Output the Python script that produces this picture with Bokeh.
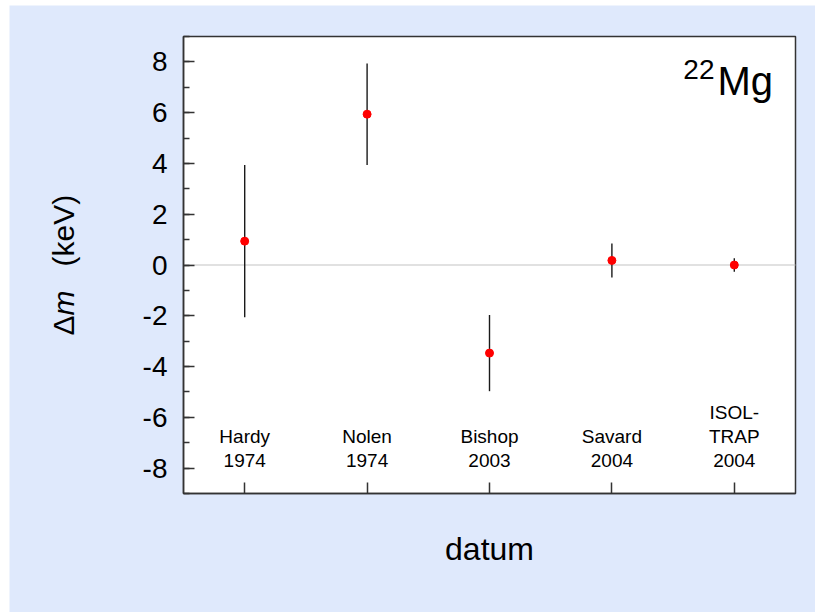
import numpy as np
from bokeh.plotting import figure
from bokeh.models import (ColumnDataSource, Label, FixedTicker, Range1d, LinearAxis,
                          BoxAnnotation)
from bokeh.core.properties import value
from bokeh.embed import file_html
from bokeh.resources import INLINE

# ---- data ----
sources = ["Hardy\n1974", "Nolen\n1974", "Bishop\n2003", "Savard\n2004", "ISOL-\nTRAP\n2004"]
positions = [1, 2, 3, 4, 5]
delta_m = [0.94, 5.94, -3.47, 0.18, 0.0]
errors = [3.0, 2.0, 1.5, 0.67, 0.27]
y_ticks = [-8, -6, -4, -2, 0, 2, 4, 6, 8]
XMIN, XMAX = 0.5, 5.5
YMIN, YMAX = -9, 9

# ---- layout (pixels inside the figure) ----
W, H = 806, 607
PL, PR, PT, PB = 174, 786, 31, 488       # plot-area edges
sx = (PR - PL) / (XMAX - XMIN)
sy = (PB - PT) / (YMAX - YMIN)
x_start = XMIN - PL / sx
x_end = XMAX + (W - PR) / sx
y_end = YMAX + PT / sy
y_start = YMIN - (H - PB) / sy


def px_x(px):
    return x_start + px / sx


def px_y(py):
    return y_end - py / sy


BG = "#dfe9fc"
FONT = "Liberation Sans"
DARK = "#333333"

lo = [v - e for v, e in zip(delta_m, errors)]
hi = [v + e for v, e in zip(delta_m, errors)]
src = ColumnDataSource(dict(x=positions, y=delta_m, lo=lo, hi=hi, name=sources,
                            ylab=[-8.13] * len(positions)))

p = figure(width=W, height=H, output_backend="svg", toolbar_location=None,
           x_range=Range1d(x_start, x_end), y_range=Range1d(y_start, y_end),
           x_axis_location=None, y_axis_location=None,
           min_border=0, min_border_left=0, min_border_right=0,
           min_border_top=0, min_border_bottom=0,
           margin=(5, 0, 0, 9))

p.background_fill_color = BG
p.border_fill_color = BG
p.outline_line_color = None
p.grid.visible = False

# white plot area with frame
p.add_layout(BoxAnnotation(left=XMIN, right=XMAX, bottom=YMIN, top=YMAX,
                           fill_color="white", fill_alpha=1.0,
                           line_color=DARK, line_alpha=1.0, line_width=1.5,
                           level="underlay"))

# zero line
p.segment(x0=[XMIN], y0=[0], x1=[XMAX], y1=[0], line_color="#c4c4c4", line_width=1.2)

# error bars and points
p.segment(x0="x", y0="lo", x1="x", y1="hi", source=src, line_color="#1a1a1a", line_width=1.4)
p.scatter(x="x", y="y", source=src, size=8, fill_color="red", line_color="red")

# category labels inside the plot
p.text(x="x", y="ylab", text="name", source=src, text_align="center", text_baseline="bottom",
       text_font=value(FONT), text_font_size="19px", text_color="black", text_line_height=1.15)

# y axis at the plot-area edge
yaxis = LinearAxis(fixed_location=XMIN, bounds=(YMIN, YMAX),
                   ticker=FixedTicker(ticks=y_ticks, minor_ticks=list(range(YMIN, YMAX + 1))))
yaxis.major_label_overrides = {t: str(t) for t in y_ticks}
yaxis.major_tick_in = 11
yaxis.major_tick_out = 0
yaxis.minor_tick_in = 6
yaxis.minor_tick_out = 0
yaxis.major_label_text_font = FONT
yaxis.major_label_text_font_size = "28px"
yaxis.major_label_text_color = "black"
yaxis.major_label_standoff = 16
yaxis.axis_line_color = DARK
yaxis.axis_line_width = 1.5
yaxis.major_tick_line_color = DARK
yaxis.major_tick_line_width = 1.5
yaxis.minor_tick_line_color = DARK
yaxis.minor_tick_line_width = 1.5
p.add_layout(yaxis, "left")

# x axis: label-free ticks at the category positions
xaxis = LinearAxis(fixed_location=YMIN, bounds=(XMIN, XMAX),
                   ticker=FixedTicker(ticks=[], minor_ticks=positions))
xaxis.minor_tick_in = 11
xaxis.minor_tick_out = 0
xaxis.minor_tick_line_color = DARK
xaxis.minor_tick_line_width = 1.5
xaxis.axis_line_color = DARK
xaxis.axis_line_width = 1.5
p.add_layout(xaxis, "below")

# x axis title
p.add_layout(Label(x=(XMIN + XMAX) / 2, y=px_y(543), text="datum", text_font=FONT,
                   text_font_size="32px", text_color="black",
                   text_baseline="alphabetic", text_align="center"))

# y axis title with italic m
yl_x = px_x(54)
for txt, py, style in [("Δ", 330, "normal"), ("m", 310, "italic"), ("(keV)", 261, "normal")]:
    p.add_layout(Label(x=yl_x, y=px_y(py), text=txt, angle=np.pi / 2, text_font=FONT,
                       text_font_style=style, text_font_size="30px", text_color="black",
                       text_baseline="alphabetic", text_align="left"))

# nuclide label 22Mg
p.add_layout(Label(x=px_x(708), y=px_y(75), text="Mg", text_font=FONT, text_font_size="40px",
                   text_color="black", text_baseline="alphabetic", text_align="left"))
p.add_layout(Label(x=px_x(705), y=px_y(64), text="22", text_font=FONT, text_font_size="28px",
                   text_color="black", text_baseline="alphabetic", text_align="right"))

open("out.html", "w").write(file_html(p, INLINE))
